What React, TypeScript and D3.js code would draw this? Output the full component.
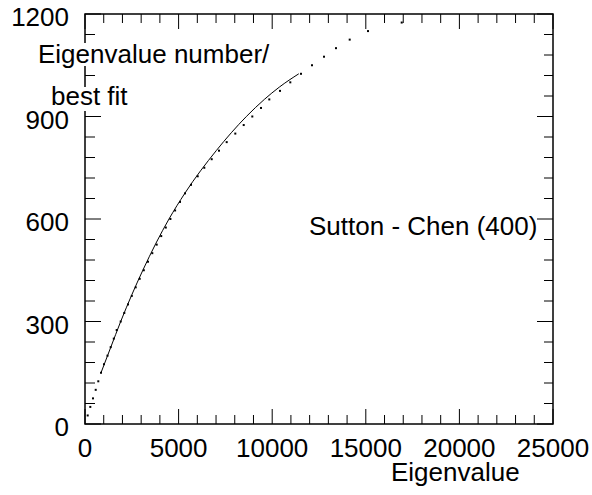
import React from "react";
import * as d3 from "d3";

// Eigenvalue number (every 25) and the eigenvalue read for each dot
const dotNumbers = [25, 50, 75, 100, 125, 150, 175, 200, 225, 250, 275, 300, 325, 350, 375, 400, 425, 450, 475, 500, 525, 550, 575, 600, 625, 650, 675, 700, 725, 750, 775, 800, 825, 850, 875, 900, 925, 950, 975, 1000, 1025, 1050, 1075, 1100, 1125, 1150, 1175];
const dotEigen = [144, 283, 427, 572, 710, 855, 1015, 1202, 1373, 1538, 1693, 1907, 2099, 2297, 2500, 2708, 2922, 3141, 3365, 3595, 3830, 4071, 4316, 4562, 4813, 5075, 5342, 5662, 6020, 6373, 6768, 7158, 7569, 8029, 8478, 8937, 9402, 9845, 10417, 10967, 11538, 12126, 12767, 13408, 14140, 15118, 16918];

// best-fit curve
const fitEigen = [855, 1373, 1907, 3098, 4487, 5330, 7010, 8620, 9580, 10380, 11420];
const fitNumber = [150, 224, 300, 451, 600, 675, 800, 900, 950, 986, 1025];

const xTickLabels = [0, 5000, 10000, 15000, 20000, 25000];
const yTickLabels = [0, 300, 600, 900, 1200];

const W = 592, H = 495;
const L = 85, R = 553, T = 14, B = 424;
const FONT = "'Liberation Sans', Arial, Helvetica, sans-serif";

export default function App() {
  const x = d3.scaleLinear().domain([0, 25000]).range([L, R]);
  const y = d3.scaleLinear().domain([0, 1200]).range([B, T]);
  const xMinor = d3.range(0, 25001, 1000);
  const yMinor = d3.range(0, 1201, 60);
  const line = d3
    .line<number>()
    .x((d, i) => x(fitEigen[i]))
    .y((d) => y(d))
    .curve(d3.curveMonotoneX);

  return (
    <svg width={W} height={H} style={{ position: "absolute", left: 0, top: 0, background: "#fff" }}>
      <rect x={0} y={0} width={W} height={H} fill="#fff" />
      {/* x ticks bottom & top */}
      {xMinor.map((v) => {
        const major = v % 5000 === 0;
        const len = major ? 15 : 9;
        return (
          <g key={"x" + v} stroke="#000" strokeWidth={1}>
            <line x1={x(v)} x2={x(v)} y1={B} y2={B - len} />
            <line x1={x(v)} x2={x(v)} y1={T} y2={T + len} />
          </g>
        );
      })}
      {yMinor.map((v) => {
        const major = v % 300 === 0;
        return (
          <g key={"y" + v} stroke="#000" strokeWidth={1}>
            <line x1={L} x2={L + (major ? 16 : 10)} y1={y(v)} y2={y(v)} />
            <line x1={R} x2={R - (major ? 16 : 9)} y1={y(v)} y2={y(v)} />
          </g>
        );
      })}
      <rect x={L} y={T} width={R - L} height={B - T} fill="none" stroke="#000" strokeWidth={1.5} />

      {/* fit curve */}
      <path d={line(fitNumber) || ""} fill="none" stroke="#000" strokeWidth={1} />
      {/* dots */}
      {dotNumbers.map((n, i) => (
        <rect key={"d" + i} x={x(dotEigen[i]) - 1} y={y(n) - 1} width={2} height={2} fill="#000" />
      ))}

      {/* tick labels */}
      <g fontFamily={FONT} fontSize={26} fill="#000">
        {xTickLabels.map((v) => (
          <text key={"xl" + v} x={x(v)} y={457} textAnchor="middle">{v}</text>
        ))}
        {yTickLabels.map((v) => (
          <text key={"yl" + v} x={69} y={y(v) + 12} textAnchor="end">{v}</text>
        ))}
        <text x={391} y={481}>Eigenvalue</text>

        <rect x={36} y={43} width={234} height={23} fill="#fff" />
        <text x={38} y={63}>Eigenvalue number/</text>
        <rect x={49} y={87} width={102} height={24} fill="#fff" />
        <text x={51} y={105}>best fit</text>

        <text x={309} y={235}>Sutton - Chen (400)</text>
      </g>
    </svg>
  );
}
